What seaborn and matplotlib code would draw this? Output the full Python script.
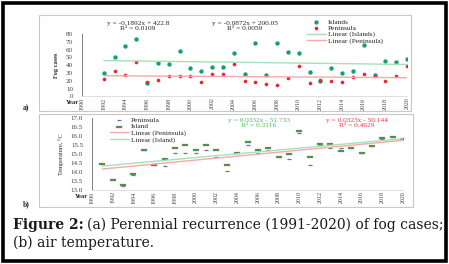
import numpy as np
import pandas as pd
import matplotlib
matplotlib.use('Agg')
import matplotlib.pyplot as plt
from matplotlib.patches import Rectangle
import seaborn as sns

# === data ===
years_a = list(range(1992, 2021))
fog_islands = [30, 50, 64, 73, 17, 43, 41, 58, 36, 33, 37.5, 37.5, 55, 29, 68,
               27, 68, 57, 55, 31.5, 19.5, 36, 30, 32, 65.5, 27, 45, 44, 48.5]
fog_peninsula = [22, 33, 27, 44, 18, 21, 26, 26, 26, 18, 29, 28, 42, 20, 18.5,
                 16, 14, 23, 39, 17, 20.5, 20, 19, 25, 28, 25.5, 20, 25.5, 39]

years_b = list(range(1991, 2021))
temp_island = [14.46, 13.54, 13.28, 13.91, 15.19, 14.41, 14.74, 15.30, 15.48, 15.19,
               15.48, 15.19, 14.41, 15.02, 15.65, 15.19, 15.35, 14.85, 14.98, 16.26,
               14.85, 15.57, 15.52, 15.15, 15.33, 15.06, 15.44, 15.85, 15.93, 15.83]
temp_peninsula = [14.46, 13.63, 13.22, 13.83, 15.19, 14.41, 14.33, 15.06, 15.06, 15.02,
                  15.24, 14.83, 14.06, 15.02, 15.50, 15.06, 15.24, 14.85, 14.74, 16.13,
                  14.37, 15.50, 15.33, 15.35, 15.33, 15.06, 15.44, 15.80, 15.80, 15.83]

year_ticks = list(range(1990, 2021, 2))
fog_ticks = list(range(0, 81, 10))
temp_ticks = [13.0, 13.5, 14.0, 14.5, 15.0, 15.5, 16.0, 16.5, 17.0]

eq_a = [("y = -0.1892x + 422.8", "R² = 0.0109"), ("y = -0.0872x + 200.05", "R² = 0.0059")]
eq_b = [("y = 0.0332x - 51.733", "R² = 0.3116"), ("y = 0.0323x - 50.144", "R² = 0.4629")]
caption_head = "Figure 2:"
caption_1 = "(a) Perennial recurrence (1991-2020) of fog cases;"
caption_2 = "(b) air temperature."

# === colours ===
C_ISL = '#14a06c'
C_PEN = '#e8283a'
C_ISL_LINE = '#a6e0b4'
C_PEN_LINE = '#f5a9a9'
C_PEN_B = '#7a6a9a'

sns.set_theme(style="white")
plt.rcParams['font.family'] = ['Liberation Serif', 'DejaVu Serif']

W, H = 449, 264
fig = plt.figure(figsize=(W / 100, H / 100), dpi=100)


def fx(px):
    return px / W


def fy(py):
    return 1 - py / H


def box(x0, y0, x1, y1, **kw):
    fig.patches.append(Rectangle((fx(x0), fy(y1)), fx(x1) - fx(x0), fy(y0) - fy(y1),
                                 transform=fig.transFigure, fill=False, **kw))


# outer frame and panel frames
box(3, 3, 446, 261, edgecolor='black', linewidth=2.6)
box(39, 15, 411, 111, edgecolor='#c8c8c8', linewidth=0.8)
box(39, 114, 413, 207, edgecolor='#c8c8c8', linewidth=0.8)


def style_axes(ax, yticks, ylabels):
    ax.set_facecolor('none')
    for s in ['top', 'right']:
        ax.spines[s].set_visible(False)
    ax.spines['left'].set_color('#7f7f7f')
    ax.spines['left'].set_linewidth(0.7)
    ax.spines['bottom'].set_color('#d9d9d9')
    ax.spines['bottom'].set_linewidth(0.6)
    ax.set_xlim(1990, 2020)
    ax.set_xticks(year_ticks)
    ax.set_xticklabels([str(y) for y in year_ticks], rotation=90, fontsize=4.3, color='#404040')
    ax.set_yticks(yticks)
    ax.set_yticklabels(ylabels, fontsize=5, color='#404040')
    ax.tick_params(axis='y', direction='out', length=2.5, width=0.5, color='#7f7f7f', pad=4)
    ax.tick_params(axis='x', length=0, pad=1)
    ax.set_xlabel('')


# === panel a: fog cases ===
df_a = pd.DataFrame({'year': years_a, 'Islands': fog_islands, 'Peninsula': fog_peninsula})
ax_a = fig.add_axes([fx(82), fy(96.3), fx(407) - fx(82), fy(34) - fy(96.3)])
sns.regplot(data=df_a, x='year', y='Islands', scatter=False, ci=None, ax=ax_a,
            line_kws={'color': C_ISL_LINE, 'linewidth': 1.0}, label='Linear (Islands)')
sns.regplot(data=df_a, x='year', y='Peninsula', scatter=False, ci=None, ax=ax_a,
            line_kws={'color': C_PEN_LINE, 'linewidth': 1.0}, label='Linear (Peninsula)')
sns.scatterplot(data=df_a, x='year', y='Islands', ax=ax_a, color=C_ISL, s=10,
                marker='o', linewidth=0, label='Islands')
sns.scatterplot(data=df_a, x='year', y='Peninsula', ax=ax_a, color=C_PEN, s=7,
                marker='o', linewidth=0, label='Peninsula')
ax_a.set_ylim(0, 80)
style_axes(ax_a, fog_ticks, [str(v) for v in fog_ticks])
ax_a.set_ylabel('Fog cases', fontsize=4.5, fontweight='bold', labelpad=5)
h, l = ax_a.get_legend_handles_labels()
order = [l.index(n) for n in ['Islands', 'Peninsula', 'Linear (Islands)', 'Linear (Peninsula)']]
ax_a.legend([h[i] for i in order], [l[i] for i in order], loc='upper left',
            bbox_to_anchor=(fx(303), fy(15)), bbox_transform=fig.transFigure,
            frameon=False, fontsize=5.3, handlelength=2.6, handletextpad=0.3,
            labelspacing=0.0, borderpad=0, markerscale=1.0)

for (eq, r2), x in zip(eq_a, [138, 245]):
    fig.text(fx(x), fy(23.5), eq, fontsize=5.3, ha='center', va='center', color='#262626')
    fig.text(fx(x), fy(28.8), r2, fontsize=5.3, ha='center', va='center', color='#262626')

# === panel b: air temperature ===
df_b = pd.DataFrame({'year': years_b, 'Island': temp_island, 'Peninsula': temp_peninsula})
ax_b = fig.add_axes([fx(92), fy(190), fx(403) - fx(92), fy(117.7) - fy(190)])
sns.regplot(data=df_b, x='year', y='Peninsula', scatter=False, ci=None, ax=ax_b,
            line_kws={'color': C_PEN_LINE, 'linewidth': 1.0}, label='Linear (Peninsula)')
sns.regplot(data=df_b, x='year', y='Island', scatter=False, ci=None, ax=ax_b,
            line_kws={'color': C_ISL_LINE, 'linewidth': 1.0}, label='Linear (Island)')
sns.scatterplot(data=df_b, x='year', y='Peninsula', ax=ax_b, color=C_PEN_B, s=6,
                marker='_', linewidth=0.9, label='Peninsula')
rect_marker = [(-1.6, -0.7), (1.6, -0.7), (1.6, 0.7), (-1.6, 0.7), (-1.6, -0.7)]
sns.scatterplot(data=df_b, x='year', y='Island', ax=ax_b, color='#1f9e4a', s=18,
                marker=rect_marker, edgecolor='#e87070', linewidth=0.25, label='Island')
ax_b.set_ylim(13, 17)
style_axes(ax_b, temp_ticks, [f"{v:.1f}" for v in temp_ticks])
ax_b.set_ylabel('Temperature, °C', fontsize=4.5, labelpad=5)
h, l = ax_b.get_legend_handles_labels()
order = [l.index(n) for n in ['Peninsula', 'Island', 'Linear (Peninsula)', 'Linear (Island)']]
ax_b.legend([h[i] for i in order], [l[i] for i in order], loc='upper left',
            bbox_to_anchor=(fx(106), fy(113.5)), bbox_transform=fig.transFigure,
            frameon=False, fontsize=5.3, handlelength=2.6, handletextpad=0.3,
            labelspacing=0.0, borderpad=0)

for (eq, r2), x, c in zip(eq_b, [259, 357], ['#3cc060', '#ee3344']):
    fig.text(fx(x), fy(120.5), eq, fontsize=5.3, ha='center', va='center', color=c)
    fig.text(fx(x), fy(125.5), r2, fontsize=5.3, ha='center', va='center', color=c)

# axis captions and panel letters
fig.text(fx(79), fy(102), 'Year', fontsize=4.8, fontweight='bold', ha='right', va='center')
fig.text(fx(88), fy(197), 'Year', fontsize=4.8, fontweight='bold', ha='right', va='center')
fig.text(fx(23), fy(108), 'a)', fontsize=5.5, fontweight='bold', ha='left', va='center')
fig.text(fx(23), fy(204), 'b)', fontsize=5.5, fontweight='bold', ha='left', va='center')

# figure caption: size chosen so the first line runs from x=13 to x=439
renderer = fig.canvas.get_renderer()
cap_kw = dict(family='DejaVu Serif', ha='left', va='baseline', color='#1a1a1a')
size = 8.0
for _ in range(2):
    t_head = fig.text(fx(13), fy(229), caption_head, fontsize=size, fontweight='bold', **cap_kw)
    t_space = fig.text(0, 0, caption_head + ' ' + caption_1, fontsize=size, **cap_kw)
    w_head = t_head.get_window_extent(renderer).width
    w_all = t_space.get_window_extent(renderer).width
    t_head.remove()
    t_space.remove()
    size = size * 426 / w_all
t_head = fig.text(fx(13), fy(229), caption_head, fontsize=size, fontweight='bold', **cap_kw)
w_head = t_head.get_window_extent(renderer).width
fig.text(fx(13 + w_head + size * 0.35), fy(229), caption_1, fontsize=size, **cap_kw)
fig.text(fx(13), fy(246.5), caption_2, fontsize=size, **cap_kw)

fig.savefig('out.png', dpi=100)
